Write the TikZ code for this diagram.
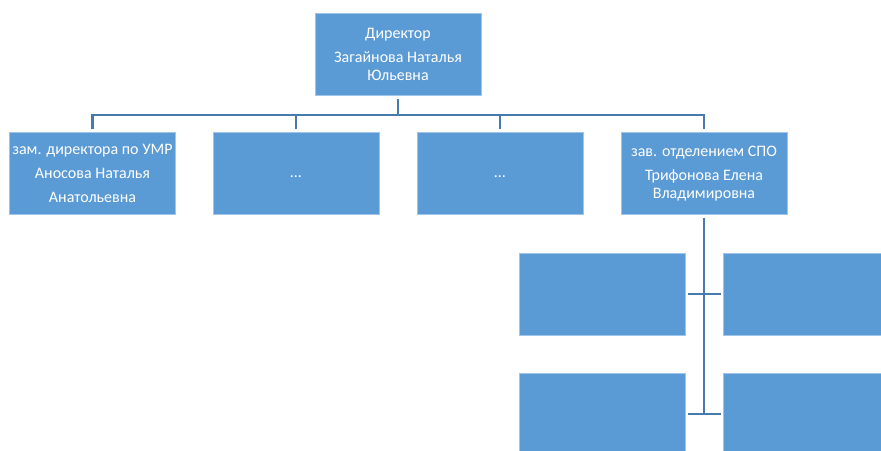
\documentclass[tikz,border=0pt]{standalone}
\usepackage{fontspec}
\setmainfont{Carlito}
\definecolor{boxblue}{RGB}{91,155,213}
\definecolor{boxedge}{RGB}{160,197,232}
\definecolor{linkblue}{RGB}{71,122,175}

\begin{document}
\begin{tikzpicture}[x=0.75pt,y=-0.75pt,
	unit/.style={fill=boxblue,draw=boxedge,line width=0.75pt,minimum width=124.5pt,minimum height=61.5pt,inner sep=0pt,text=white,align=center,font=\fontsize{12}{13.2}\selectfont},
	link/.style={draw=linkblue,line width=1.75pt}]
	\useasboundingbox (0,0) rectangle (881,450);
	\clip (0,0) rectangle (881,450);
	% director
	\node[unit] (dir) at (398,54.5) {Директор\\[4.8pt]Загайнова Наталья\\Юльевна};
	% second level
	\node[unit] (b1) at (92.5,173.5) {зам. директора по УМР\\[4.8pt]Аносова Наталья\\[4.8pt]Анатольевна};
	\node[unit] (b2) at (296,173.5) {\strut…};
	\node[unit] (b3) at (500,173.5) {\strut…};
	\node[unit] (b4) at (704,173.5) {зав. отделением СПО\\[4.8pt]Трифонова Елена\\Владимировна};
	% third level
	\node[unit] (c1) at (602,294) {};
	\node[unit] (c2) at (806,294) {};
	\node[unit] (c3) at (602,414) {};
	\node[unit] (c4) at (806,414) {};
	% links
	\coordinate (bus) at (398,115);
	\draw[link,shorten <=2pt] (dir.south) -- (dir.south |- bus);
	\draw[link,shorten <=2pt,shorten >=2pt] (b1.north) |- (bus) -| (b4.north);
	\draw[link,shorten <=2pt] (b2.north) -- (b2.north |- bus);
	\draw[link,shorten <=2pt] (b3.north) -- (b3.north |- bus);
	\draw[link,shorten <=2pt] (b4.south) -- (b4.south |- c3.east);
	\draw[link,shorten <=2pt,shorten >=1.5pt] (c1.east) -- (c2.west);
	\draw[link,shorten <=2pt,shorten >=1.5pt] (c3.east) -- (c4.west);
\end{tikzpicture}
\end{document}
